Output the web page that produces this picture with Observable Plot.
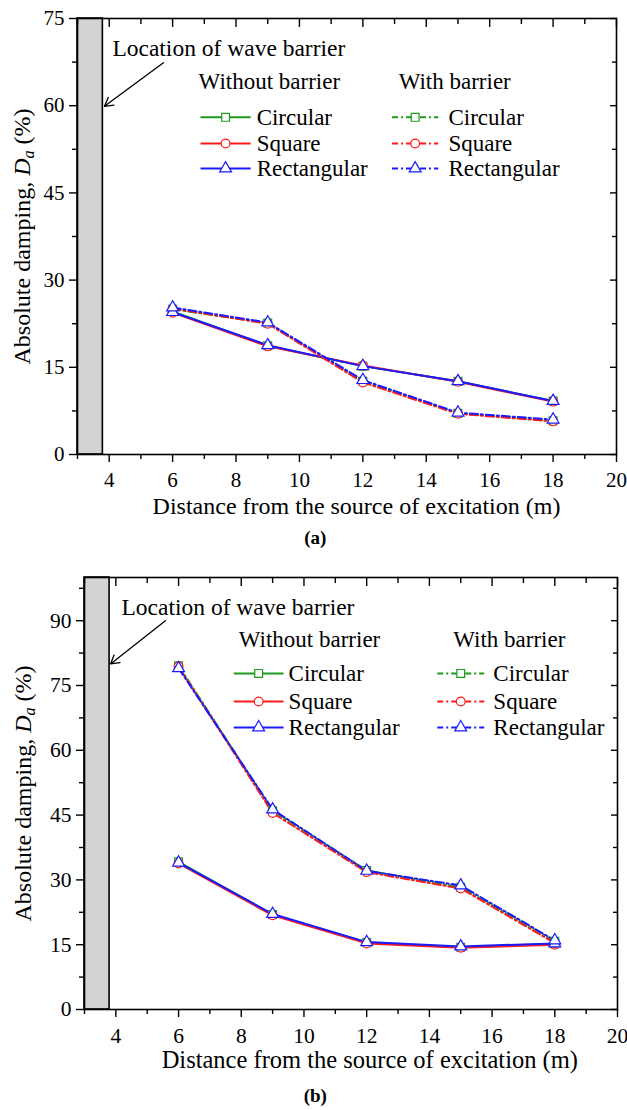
<!DOCTYPE html>
<html><head><meta charset="utf-8">
<script src="https://cdn.jsdelivr.net/npm/d3@7"></script>
<script src="https://cdn.jsdelivr.net/npm/@observablehq/plot@0.6"></script>
<style>
body{margin:0;background:#fff;}
#chart svg{display:block;}
#chart svg, #chart svg text, #chart svg tspan{font-family:"Liberation Serif","Times New Roman",serif !important;}
</style></head><body><div id="chart"></div>
<script>
// ---------- data ----------
const distances = [6, 9, 12, 15, 18];
const shapes = ["Circular", "Square", "Rectangular"];
const shapeColors = ["#1c9a1c", "#ff1a1a", "#1a1aff"];
const shapeSymbols = ["square", "circle", "triangle"];
const legendTitles = ["Without barrier", "With barrier"];

// panel (a)
const aWithoutCircular    = [24.6, 18.7, 15.2, 12.6, 9.2];
const aWithoutSquare      = [24.4, 18.6, 15.3, 12.5, 9.1];
const aWithoutRectangular = [24.5, 18.8, 15.2, 12.6, 9.2];
const aWithCircular       = [25.0, 22.6, 12.6, 7.1, 5.8];
const aWithSquare         = [25.1, 22.5, 12.4, 7.0, 5.7];
const aWithRectangular    = [25.3, 22.7, 12.8, 7.2, 6.0];

// panel (b)
const bWithoutCircular    = [34.2, 22.0, 15.5, 14.4, 15.2];
const bWithoutSquare      = [33.8, 21.8, 15.3, 14.3, 15.0];
const bWithoutRectangular = [34.0, 22.1, 15.6, 14.6, 15.3];
const bWithCircular       = [79.6, 46.0, 32.2, 28.3, 15.8];
const bWithSquare         = [79.4, 45.5, 31.8, 28.0, 15.4];
const bWithRectangular    = [79.0, 46.3, 32.1, 28.7, 16.0];

// ticks
const xMajorTicks = [4, 6, 8, 10, 12, 14, 16, 18, 20];
const xMinorTicks = [3, 5, 7, 9, 11, 13, 15, 17, 19];
const aYMajorTicks = [0, 15, 30, 45, 60, 75];
const aYMinorTicks = [7.5, 22.5, 37.5, 52.5, 67.5];
const bYMajorTicks = [0, 15, 30, 45, 60, 75, 90];
const bYMinorTicks = [7.5, 22.5, 37.5, 52.5, 67.5, 82.5, 97.5];
const barrierExtent = [3, 3.8];

// texts
const xTitle = "Distance from the source of excitation (m)";
const yTitleParts = ["Absolute damping, ", "D", "a", " (%)"];
const yTitle = yTitleParts.join("");
const barrierNote = "Location of wave barrier";

// ---------- drawing ----------
const serif = "'Liberation Serif', 'Times New Roman', serif";
const dash = "8,3,2,3";

function makePanel(c) {
  const series = [
    {group: 0, shape: shapes[0], values: c.without[0]},
    {group: 0, shape: shapes[1], values: c.without[1]},
    {group: 0, shape: shapes[2], values: c.without[2]},
    {group: 1, shape: shapes[0], values: c.with[0]},
    {group: 1, shape: shapes[1], values: c.with[1]},
    {group: 1, shape: shapes[2], values: c.with[2]}
  ];
  const rows = [];
  series.forEach(s => s.values.forEach((v, i) => rows.push({x: distances[i], y: v, shape: s.shape, group: s.group, key: s.group + s.shape})));
  const solidRows = rows.filter(r => r.group === 0);
  const dashRows = rows.filter(r => r.group === 1);
  const dotRows = [...shapes].flatMap(s => rows.filter(r => r.shape === s));

  const L = c.legend;
  const leg = [];
  [0, 1].forEach(g => shapes.forEach((s, i) => leg.push({
    group: g, shape: s,
    x1: L.lineX[g][0], x2: L.lineX[g][1], xm: (L.lineX[g][0] + L.lineX[g][1]) / 2,
    xt: L.textX[g], y: L.rowsY[i]
  })));
  const legSolid = leg.filter(d => d.group === 0);
  const legDash = leg.filter(d => d.group === 1);

  const svg = Plot.plot({
    width: 627, height: c.height,
    marginTop: c.mt, marginBottom: c.mb, marginLeft: c.ml, marginRight: c.mr,
    style: {fontFamily: serif, fontSize: "21px", color: "#000", background: "#fff", overflow: "visible"},
    x: {domain: [3, 20], label: null},
    y: {domain: [0, c.yMax], label: null},
    color: {domain: shapes, range: shapeColors},
    symbol: {domain: shapes, range: shapeSymbols},
    marks: [
      Plot.rect([barrierExtent], {x1: d => d[0], x2: d => d[1], y1: 0, y2: c.yMax, fill: "#d3d3d3", stroke: "#000", strokeWidth: 1.6}),
      // axes
      Plot.axisX(xMajorTicks, {anchor: "bottom", tickSize: 8, tickPadding: 10, strokeWidth: 1.4, label: null, fontSize: c.tickFont, fontFamily: serif}),
      Plot.axisX(xMinorTicks, {anchor: "bottom", tickSize: 5, tickFormat: () => "", strokeWidth: 1.4, label: null}),
      Plot.axisX(xMajorTicks, {anchor: "top", tickSize: 8, dy: 8, tickFormat: () => "", strokeWidth: 1.4, label: null}),
      Plot.axisX(xMinorTicks, {anchor: "top", tickSize: 5, dy: 5, tickFormat: () => "", strokeWidth: 1.4, label: null}),
      Plot.axisY(c.yMajor, {anchor: "left", tickSize: 8, tickPadding: 5, strokeWidth: 1.4, label: null, fontSize: c.tickFont, fontFamily: serif}),
      Plot.axisY(c.yMinor, {anchor: "left", tickSize: 5, tickFormat: () => "", strokeWidth: 1.4, label: null}),
      Plot.axisY(c.yMajor, {anchor: "right", tickSize: 7, dx: -7, tickFormat: () => "", strokeWidth: 1.4, label: null}),
      Plot.axisY(c.yMinor, {anchor: "right", tickSize: 5, dx: -5, tickFormat: () => "", strokeWidth: 1.4, label: null}),
      Plot.frame({stroke: "#000", strokeWidth: 1.6}),
      // data
      Plot.line(solidRows, {x: "x", y: "y", z: "key", stroke: "shape", strokeWidth: 2}),
      Plot.line(dashRows, {x: "x", y: "y", z: "key", stroke: "shape", strokeWidth: 2, strokeDasharray: dash}),
      Plot.dot(dotRows, {x: "x", y: "y", symbol: "shape", stroke: "shape", fill: "#fff", r: 4.4, strokeWidth: 1.2}),
      // annotation
      Plot.text([barrierNote], {x: L.note[0], y: L.note[1], text: d => d, textAnchor: "start", fontSize: 23.5, fontFamily: serif}),
      Plot.arrow([c.arrow], {x1: d => d[0], y1: d => d[1], x2: d => d[2], y2: d => d[3], stroke: "#000", strokeWidth: 1.3, headLength: 11}),
      // legend
      Plot.text(legendTitles, {x: (d, i) => L.headerX[i], y: L.headerY, text: d => d, textAnchor: "start", fontSize: 23, fontFamily: serif}),
      Plot.link(legSolid, {x1: "x1", x2: "x2", y1: "y", y2: "y", stroke: "shape", strokeWidth: 2}),
      Plot.link(legDash, {x1: "x1", x2: "x2", y1: "y", y2: "y", stroke: "shape", strokeWidth: 2, strokeDasharray: "6,3,2,3"}),
      Plot.dot(leg, {x: "xm", y: "y", symbol: "shape", stroke: "shape", fill: "#fff", r: 4.4, strokeWidth: 1.2}),
      Plot.text(leg, {x: "xt", y: "y", text: "shape", textAnchor: "start", fontSize: 23, fontFamily: serif}),
      // titles
      Plot.text([yTitle], {frameAnchor: "left", dx: c.yTitleDx, rotate: -90, text: d => d, textAnchor: "middle", fontSize: 24, fontFamily: serif}),
      Plot.text([xTitle], {x: c.xTitleX, frameAnchor: "bottom", dy: c.xTitleDy, text: d => d, fontSize: c.xTitleFont, fontFamily: serif}),
      Plot.text([c.caption], {x: c.captionX, frameAnchor: "bottom", dy: c.captionDy, text: d => d, fontSize: 19, fontWeight: "bold", fontFamily: serif})
    ]
  });

  // italic D with subscript a in the y title
  for (const t of svg.querySelectorAll("text")) {
    if (t.textContent === yTitle) {
      t.textContent = "";
      t.setAttribute("text-anchor", "middle");
      t.style.textAnchor = "middle";
      const ns = "http://www.w3.org/2000/svg";
      const mk = (txt, attrs) => {
        const ts = document.createElementNS(ns, "tspan");
        ts.textContent = txt;
        for (const k in attrs) ts.setAttribute(k, attrs[k]);
        t.appendChild(ts);
      };
      mk(yTitleParts[0], {});
      mk(yTitleParts[1], {"font-style": "italic"});
      mk(yTitleParts[2], {"font-style": "italic", "font-size": "16px", "baseline-shift": "-25%"});
      mk(yTitleParts[3], {});
    }
  }
  return svg;
}

const chart = document.getElementById("chart");
chart.appendChild(makePanel({
  height: 560, mt: 18, mb: 106, ml: 77, mr: 11, yMax: 75, tickFont: 21,
  yMajor: aYMajorTicks, yMinor: aYMinorTicks,
  without: [aWithoutCircular, aWithoutSquare, aWithoutRectangular],
  with: [aWithCircular, aWithSquare, aWithRectangular],
  arrow: [5.71, 67.4, 3.85, 59.9],
  legend: {
    note: [4.1, 69.8],
    headerX: [6.82, 13.13], headerY: 64.2,
    rowsY: [58.0, 53.5, 49.2],
    lineX: [[6.88, 8.46], [12.92, 14.38]],
    textX: [8.65, 14.70]
  },
  yTitleDx: -55, xTitleX: 11.8, xTitleDy: 59, xTitleFont: 24, caption: "(a)", captionX: 10.5, captionDy: 89
}));
chart.appendChild(makePanel({
  height: 550, mt: 17, mb: 101, ml: 84, mr: 10, yMax: 100, tickFont: 21.5,
  yMajor: bYMajorTicks, yMinor: bYMinorTicks,
  without: [bWithoutCircular, bWithoutSquare, bWithoutRectangular],
  with: [bWithCircular, bWithSquare, bWithRectangular],
  arrow: [5.58, 90.0, 3.83, 80.0],
  legend: {
    note: [4.18, 93.1],
    headerX: [7.92, 14.76], headerY: 85.7,
    rowsY: [77.8, 71.3, 65.3],
    lineX: [[7.76, 9.35], [14.25, 15.75]],
    textX: [9.51, 16.04]
  },
  yTitleDx: -61, xTitleX: 12.1, xTitleDy: 58, xTitleFont: 24.5, caption: "(b)", captionX: 10.36, captionDy: 92
}));
</script></body></html>
